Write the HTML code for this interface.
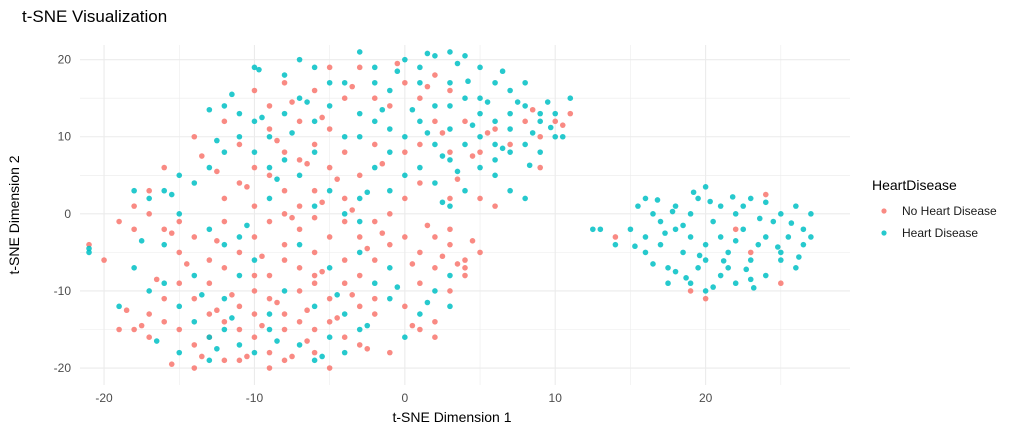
<!DOCTYPE html>
<html><head><meta charset="utf-8"><style>
body{margin:0;background:#fff;width:1012px;height:432px;overflow:hidden;font-family:"Liberation Sans",sans-serif}
</style></head><body>
<svg id="chart" width="1012" height="432" xmlns="http://www.w3.org/2000/svg" font-family="Liberation Sans, sans-serif">
<text x="22" y="22" font-size="17" fill="#000">t-SNE Visualization</text>
<g id="grid"></g><g id="pts"></g><g id="axes"></g>
<text x="452" y="422" font-size="14" text-anchor="middle" fill="#000">t-SNE Dimension 1</text>
<text transform="translate(19,215) rotate(-90)" font-size="14" text-anchor="middle" fill="#000">t-SNE Dimension 2</text>
<g>
<text x="872" y="190" font-size="14" fill="#000">HeartDisease</text>
<circle cx="884" cy="211" r="2.6" fill="#F8766D" fill-opacity="0.85"/>
<text x="902" y="215" font-size="12" fill="#1a1a1a">No Heart Disease</text>
<circle cx="884" cy="233" r="2.6" fill="#00BFC4" fill-opacity="0.85"/>
<text x="902" y="237" font-size="12" fill="#1a1a1a">Heart Disease</text>
</g>
</svg>
<script>
const xTicks=[-20,-10,0,10,20];
const yTicks=[-20,-10,0,10,20];
const cyanX=[15,15.5,16,16,16.5,17,17,17.5,18,18,18.5,19,19,19,19.5,20,20,20,20.5,21,21,21,21.5,22,22,22.5,23,23,23.5,24,24,24.5,25,25,25.5,26,26,26.5,27,27,16,17.5,18,20,21.5,22,23,24,25,26.5,19.5,20.5,22.5,18.5,16.5,13,14,12.5,
-21,-21,
0,1,2,3,4,5,6,7,8,9,10,11,10.5,8,7,6,5,4,3,2,1,0,-1,-2,-3,-1,1,2,3,4,5,6,7,8,4,3,5,6,7,9,2,0,-1,-2,-3,-4,-2,-1,1,3,8,9,10,7,5,6,3,-3,-5,-4,-6,-3,-2,-3,
-12,-13,-11,-10,-9,-8,-7,-6,-5,-7,-8,-6,-5,-10,-11,-12,-13,-14,-15,-16,-17,-18,-15,-13,-12,-11,-9,-8,-7,-6,-4,-9,-10,-14,-15,-16,-17,-15,-13,-12,-11,-13,-10,-9,-7,-6,-5,-4,-3,-4,-6,-8,-9,-11,-10,-7,-5,-3,-2,-1,0,1,2,3,3,-1,-14,-12,-16,-18,-19,
15.3,16.8,17.3,18.7,19.6,20.3,21.2,22.7,23.6,24.8,25.7,26.2,19.2,21.8,17.8,23.2,
0.5,1.5,2.5,3.5,4.5,5.5,6.5,7.5,8.5,9.5,3.5,1.5,-0.5,-1.5,2.5,6.5,8.3,9.7,4.2,-2.5,
-12.5,-9.5,-7.5,-6.5,-8.5,-15.5,-17.5,-13.5,-11.5,-8.5,-5.5,-2.5,-0.5,1.5,-4.5,-10.5,-16.5,-12.5,-9.7,-11.5];
const cyanY=[-2,1,-3,-5,0,-1,-4,-7,-2,1,-5,-9,-3,0,2,3.5,-6,-10,-1,-3,1,-8,-5,0,-9,-2,2,-6,-4,1.5,-8,-1,0,-5,-3,-7,1,-2,0,-3,2,-9,-7.5,-4,-7,-3.5,-8.5,-3,-6,-4,-7,-9.5,1,-1.5,-6.5,-2,-4,-2,
-4.5,-5,
20,19,20.5,21,20.5,19,17,16,14,12,13,15,10,9,11,12,13,15,17,14,12,10,11,12,10,8,6,4,7,9,6,5,3,2,3,11,10,9,8,8,9,5,3,6,13,17,19,16,17,14,17,13,10,13,15,7,1,2,3,0,1,-1,17,21,
14,13.5,13,12,10,13,15,12,14,20,18,19,17,19,10,8,6,4,5,3,2,3,0,-2,-4,-3,2,7,5,8,10,6,8,-8,-12,-9,-10,-18,-16,-15,-17,-19,-18,-15,-17,-19,-16,-13,-15,-18,-12,-10,-13,-8,-6,-4,-7,-5,-9,-11,-16,-13,-10,-8,-12,-7,-14,-11,-4,-7,-12,
-4.2,1.8,-2.5,-8.3,-5.4,1.6,-6.1,-7.2,-0.6,-4.3,-1.2,-5.6,2.8,2.2,0.3,-9.6,
13.5,10.5,7.5,5.5,11.5,14.5,8.5,14.5,10.5,14.5,19.5,20.8,18.5,13.5,1.5,18.5,6.3,11.2,17.2,2.8,
9.5,12.5,10.5,14.5,4.5,2.5,-3.5,-10.5,-13.5,-16.5,-18.5,-14.5,-9.5,-11.5,-10.5,-1.5,-16.5,-17.5,18.7,15.5];
const redX=[-19,-18,-17,-17,-16,-16,-15,-15,-14,-14,-13,-13,-12,-12,-11,-11,-10,-10,-10,-9,-9,-9,-8,-8,-8,-7,-7,-6,-6,-5,-5,-4,-3,-4,-2,-1,0,1,2,3,4,5,2,1,2,1,3,4,-18,-17,-16,-15,-14,-13,-12,-11,-10,-9,-8,-7,-6,-5,-4,-3,-2,-12,-10,-8,-6,-11,-10,-9,-7,-5,-6,-8,-14,-11,-9,-8,-6,-5,-4,-7,-9,-10,-8,-6,-5,-3,-2,-1,0,1,2,3,-4,-2,0,1,3,4,6,8,9,10,11,7,5,2,0,1,3,6,-16,-17,-15,-7,-3,-2,-1,-13,-11,-6,-3,-5,-14,-9,20,22,23,24,25,19,14,-21,-19,-18,-20,-12,-3,-1,5,9,-7,-4,-10,-8,-6,-4,-2,0,2,4,3,-12,
-18.5,-16.5,-14.5,-13.5,-11.5,-10.5,-9.5,-8.5,-7.5,-6.5,-5.5,-4.5,-3.5,-2.5,-1.5,0.5,1.5,2.5,3.5,4.5,-15.5,-12.5,-9.5,-7.5,-5.5,-3.5,-10.5,-8.5,-6.5,-4.5,-12.5,-13.5,-7.5,-5.5,-3.5,-0.5,1.5,2.5,4.5,5.5,8.5,10.5,3.5,-1.5,-17.5,-15.5,-12.5,-6.5,-2.5,0.5];
const redY=[-15,-15,-13,-16,-11,-14,-9,-15,-11,-17,-9,-13,-19,-7,-12,-15,-10,-13,-16,-8,-11,-18,-13,-15,-19,-10,-14,-9,-15,-11,-14,-16,-12,-9,-6,-4,-3,-5,-3,-4,-6,-5,-7,-9,-14,-15,-10,-8,-2,0,-2,-5,-3,-6,-1,-5,-3,-1,-4,-2,-5,-3,-1,-3,-1,2,1,0,-0.5,4,6,5,7,6,3,3,10,9,11,8,9,11,8,12,14,16,17,16,19,19,15,14,17,15,18,16,15,9,8,9,8,12,11,12,10,12,13,9,8,12,2,4,2,1,6,3,-1,-7,-8,-13,-18,-16,-19,-18,-17,-20,-20,-20,-11,-2,-5,2.5,-9,-10,-3,-4,-1,1,-6,12,5,0,2,6,1,2,-8,-6,-8,-6,-11,-12,-16,-7,-2,-14,
-12.5,-8.5,-6.5,-18.5,-10.5,-18.5,-14.5,-11.5,-18.5,-12.5,-7.5,-13.5,-10.5,-4.5,-2.5,-6.5,-1.5,-5.5,-6.5,-3.5,-2.5,-3.5,-5.5,-0.5,1.5,0.5,3.5,9.5,6.5,4.5,5.5,7.5,14.5,12.5,16.5,19.5,16.5,10.5,7.5,10.5,13.5,11.5,4.5,6.5,-14.5,-19.5,-12.5,-16.5,-17.5,-14.5];
const X0=-21.6,X1=29.6,PL=80,PR=850,Y0=-22.2,Y1=21.9,PB=385,PT=45;
const sx=v=>PL+(v-X0)/(X1-X0)*(PR-PL);
const sy=v=>PB-(v-Y0)/(Y1-Y0)*(PB-PT);
const NS="http://www.w3.org/2000/svg";
const grid=document.getElementById('grid'),axes=document.getElementById('axes'),pts=document.getElementById('pts');
function ln(x1,y1,x2,y2,w,name){const l=document.createElementNS(NS,'line');l.setAttribute('x1',x1);l.setAttribute('y1',y1);l.setAttribute('x2',x2);l.setAttribute('y2',y2);l.setAttribute('stroke','#ebebeb');l.setAttribute('stroke-width',w);


grid.appendChild(l);}
for(let v=-20;v<=25;v+=5){ln(sx(v),PT,sx(v),PB,v%10===0?1.1:0.55,'x-gridline');}
for(let v=-20;v<=20;v+=5){ln(PL,sy(v),PR,sy(v),v%10===0?1.1:0.55,'y-gridline');}
xTicks.forEach(v=>{const t=document.createElementNS(NS,'text');t.setAttribute('x',sx(v));t.setAttribute('y',402);t.setAttribute('text-anchor','middle');t.setAttribute('font-size','12');t.setAttribute('fill','#4d4d4d');t.textContent=v;


axes.appendChild(t);});
yTicks.forEach(v=>{const t=document.createElementNS(NS,'text');t.setAttribute('x',71);t.setAttribute('y',sy(v)+4);t.setAttribute('text-anchor','end');t.setAttribute('font-size','12');t.setAttribute('fill','#4d4d4d');t.textContent=v;


axes.appendChild(t);});
function dots(xs,ys,col,name){for(let i=0;i<xs.length;i++){const c=document.createElementNS(NS,'circle');c.setAttribute('cx',sx(xs[i]));c.setAttribute('cy',sy(ys[i]));c.setAttribute('r',2.8);c.setAttribute('fill',col);c.setAttribute('fill-opacity','0.85');


pts.appendChild(c);}}
dots(redX,redY,'#F8766D','point-no-heart-disease');
dots(cyanX,cyanY,'#00BFC4','point-heart-disease');
</script>
</body></html>
